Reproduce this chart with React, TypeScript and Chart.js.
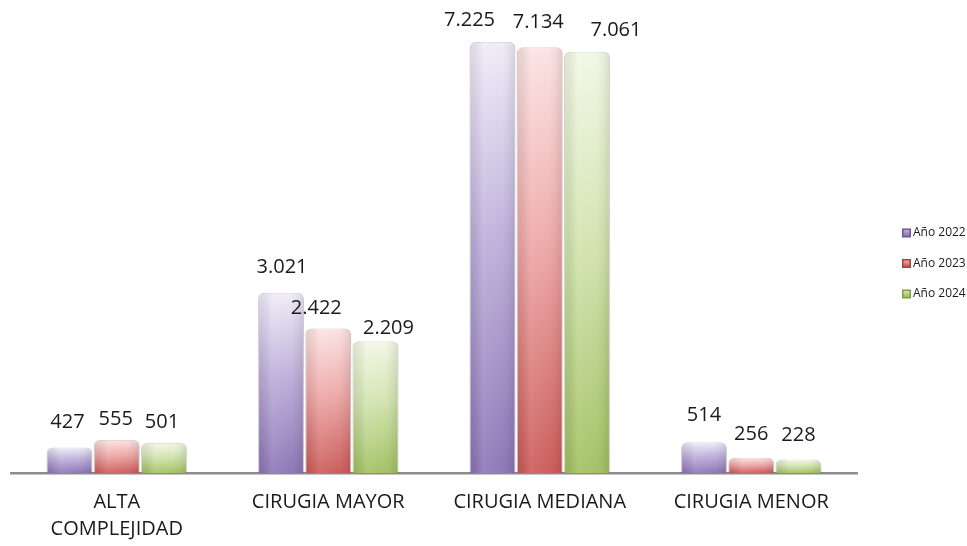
import React, { useEffect, useRef } from 'react';
import { Chart, registerables } from 'chart.js';
Chart.register(...registerables);

const categories: (string | string[])[] = [['ALTA', 'COMPLEJIDAD'], 'CIRUGIA MAYOR', 'CIRUGIA MEDIANA', 'CIRUGIA MENOR'];
const seriesNames = ['Año 2022', 'Año 2023', 'Año 2024'];
const values2022 = [427, 3021, 7225, 514];
const values2023 = [555, 2422, 7134, 256];
const values2024 = [501, 2209, 7061, 228];
const yMax = 7760;

// label nudges (dx, distance above bar top) per series, per category
const labelShift2022 = [[-2, 25], [1, 25.5], [-23, 22], [0, 27]];
const labelShift2023 = [[-1, 21], [-12, 20.5], [-1.5, 25.5], [0, 23.5]];
const labelShift2024 = [[-2, 21], [13, 13], [29, 21.5], [0, 24.5]];

const palette = [
  { light: '#efebf7', mid: '#bcaed9', dark: '#8a72b4', border: 'rgba(120,100,160,0.25)', key: '#6f5696' },
  { light: '#fbe2e2', mid: '#eda7a6', dark: '#c95754', border: 'rgba(170,70,68,0.25)', key: '#a8423f' },
  { light: '#f1f7e4', mid: '#d1e3ae', dark: '#9fbf5e', border: 'rgba(120,150,70,0.25)', key: '#7f9f45' },
];

const fmt = (v: number) => String(v).replace(/\B(?=(\d{3})+(?!\d))/g, '.');

const makeBg = (p: typeof palette[number]) => (ctx: any) => {
  const chart = ctx.chart;
  const area = chart.chartArea;
  if (!area || ctx.type !== 'data') return p.dark;
  const v = ctx.raw as number;
  const y = chart.scales.y;
  const top = y.getPixelForValue(v);
  const bottom = y.getPixelForValue(0);
  if (!isFinite(top) || !isFinite(bottom) || bottom - top < 1) return p.mid;
  const g = chart.ctx.createLinearGradient(0, top, 0, bottom);
  g.addColorStop(0, p.light);
  g.addColorStop(0.45, p.mid);
  g.addColorStop(1, p.dark);
  return g;
};

const barShade = {
  id: 'barShade',
  afterDatasetsDraw(chart: any) {
    const c = chart.ctx;
    chart.data.datasets.forEach((_: any, di: number) => {
      const meta = chart.getDatasetMeta(di);
      meta.data.forEach((el: any) => {
        const w = el.width;
        const x0 = el.x - w / 2;
        const top = el.y;
        const h = el.base - el.y;
        const g = c.createLinearGradient(x0, 0, x0 + w, 0);
        g.addColorStop(0, 'rgba(0,0,0,0.08)');
        g.addColorStop(0.3, 'rgba(255,255,255,0.12)');
        g.addColorStop(0.7, 'rgba(255,255,255,0.05)');
        g.addColorStop(1, 'rgba(0,0,0,0.10)');
        c.save();
        c.beginPath();
        if (c.roundRect) c.roundRect(x0, top, w, h, [6, 6, 0, 0]);
        else c.rect(x0, top, w, h);
        c.fillStyle = g;
        c.fill();
        c.restore();
      });
    });
  },
};

const dataLabels = {
  id: 'dataLabels',
  afterDatasetsDraw(chart: any) {
    const c = chart.ctx;
    const shifts = [labelShift2022, labelShift2023, labelShift2024];
    c.save();
    c.font = '20px "Open Sans"';
    c.fillStyle = '#1a1a1a';
    c.textAlign = 'center';
    c.textBaseline = 'middle';
    chart.data.datasets.forEach((ds: any, di: number) => {
      const meta = chart.getDatasetMeta(di);
      meta.data.forEach((el: any, i: number) => {
        const [dx, dy] = shifts[di][i];
        c.fillText(fmt(ds.data[i]), el.x + dx, el.y - dy);
      });
    });
    c.restore();
  },
};

const legendDraw = {
  id: 'legendDraw',
  afterDraw(chart: any) {
    const c = chart.ctx;
    c.save();
    c.font = '12px "Open Sans"';
    c.textBaseline = 'middle';
    c.textAlign = 'left';
    seriesNames.forEach((name, i) => {
      const y = 233 + i * 30.5;
      const p = palette[i];
      const g = c.createLinearGradient(0, y - 3, 0, y + 3);
      g.addColorStop(0, p.mid);
      g.addColorStop(1, p.dark);
      c.fillStyle = p.key;
      c.fillRect(902, y - 4.5, 9, 9);
      c.fillStyle = g;
      c.fillRect(903.5, y - 3, 6, 6);
      c.fillStyle = '#1a1a1a';
      c.fillText(name, 913, y);
    });
    c.restore();
  },
};

export default function App() {
  const ref = useRef<HTMLCanvasElement>(null);
  useEffect(() => {
    if (!ref.current) return;
    const series = [values2022, values2023, values2024];
    const chart = new Chart(ref.current, {
      type: 'bar',
      data: {
        labels: categories,
        datasets: series.map((vals, i) => ({
          label: seriesNames[i],
          data: vals,
          backgroundColor: makeBg(palette[i]),
          borderColor: palette[i].border,
          borderWidth: 1,
          borderSkipped: 'bottom',
          borderRadius: { topLeft: 6, topRight: 6, bottomLeft: 0, bottomRight: 0 },
          barPercentage: 0.97,
          categoryPercentage: 0.67,
        })),
      },
      options: {
        responsive: false,
        animation: false,
        layout: { padding: { left: 11, right: 110, top: 10, bottom: 0 } },
        plugins: { legend: { display: false }, tooltip: { enabled: false } },
        scales: {
          x: {
            grid: { display: false, drawTicks: false },
            border: { display: true, color: '#8c8c8c', width: 2.5 },
            ticks: {
              color: '#1a1a1a',
              font: { family: '"Open Sans"', size: 20, lineHeight: 1.35 },
              padding: 16,
              maxRotation: 0,
              autoSkip: false,
            },
            afterFit: (scale: any) => {
              scale.height = 73;
            },
          },
          y: { display: false, min: 0, max: yMax },
        },
      },
      plugins: [barShade, dataLabels, legendDraw],
    });
    return () => chart.destroy();
  }, []);
  return (
    <div style={{ position: 'absolute', left: 0, top: 0, width: 967, height: 546, background: '#fff' }}>
      <canvas ref={ref} width={967} height={546} style={{ display: 'block' }} />
    </div>
  );
}
